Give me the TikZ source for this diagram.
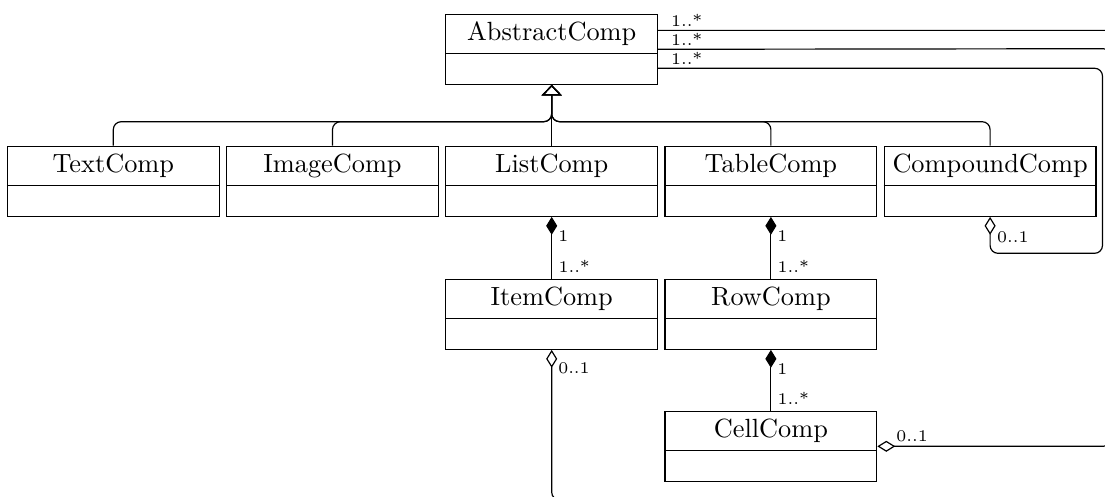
\documentclass[tikz,border=0pt]{standalone}
\usepackage{fontspec}
\usetikzlibrary{arrows.meta,calc}
\newcommand\umlclass[4]{%
  \node[classbox] (#1) at (#2,#3) {};
  \node[cname] (#1-t) at ([yshift=-7.6pt]#1.north) {#4};
  \draw[divider] ([yshift=-15.2pt]#1.north west) -- ([yshift=-15.2pt]#1.north east);
}
\begin{document}
\begin{tikzpicture}[x=0.38pt,y=-0.38pt,
  classbox/.style={draw, line width=0.45pt, minimum width=80.45pt, minimum height=26.6pt, inner sep=0pt, anchor=north},
  divider/.style={line width=0.45pt},
  cname/.style={font=\fontsize{10}{12}\selectfont, inner sep=0pt},
  mult/.style={font=\fontsize{6.2}{7}\selectfont, inner sep=0pt},
  conn/.style={line width=0.45pt, rounded corners=3pt},
  inherit/.style={conn, -{Triangle[open, length=4pt, width=7.6pt]}},
  compo/.style={conn, {Diamond[length=6.8pt, width=4.2pt]}-},
  aggr/.style={conn, {Diamond[open, length=6.8pt, width=4.2pt]}-},
]
\useasboundingbox (0,0) rectangle (1105,496);
\clip (0,0) rectangle (1105,496);

\umlclass{abs}{551.7}{13.7}{AbstractComp}
\umlclass{text}{113.3}{145.7}{TextComp}
\umlclass{image}{332.5}{145.7}{ImageComp}
\umlclass{list}{551.7}{145.7}{ListComp}
\umlclass{table}{770.9}{145.7}{TableComp}
\umlclass{compound}{990.1}{145.7}{CompoundComp}
\umlclass{item}{551.7}{278.7}{ItemComp}
\umlclass{row}{770.9}{278.7}{RowComp}
\umlclass{cell}{770.9}{410.7}{CellComp}

% inheritance
\coordinate (hub) at (551.7,121.7);
\foreach \c in {text,image,table,compound}
  \draw[inherit] (\c.north) |- (hub) -- (abs.south);
\draw[inherit] (list.north) -- (abs.south);

% compositions
\draw[compo] (list.south) -- (item.north);
\draw[compo] (table.south) -- (row.north);
\draw[compo] (row.south) -- (cell.north);
\node[mult, anchor=west] (m-list) at ([xshift=2.3pt, yshift=-7.3pt]list.south) {1};
\node[mult, anchor=west] (m-item) at ([xshift=2.4pt, yshift=4.6pt]item.north) {1..*};
\node[mult, anchor=west] (m-table) at ([xshift=2.3pt, yshift=-7.3pt]table.south) {1};
\node[mult, anchor=west] (m-row1) at ([xshift=2.4pt, yshift=4.6pt]row.north) {1..*};
\node[mult, anchor=west] (m-row2) at ([xshift=2.3pt, yshift=-7.3pt]row.south) {1};
\node[mult, anchor=west] (m-cell) at ([xshift=2.4pt, yshift=4.6pt]cell.north) {1..*};

% aggregations back to AbstractComp
\coordinate (c1) at (1119.5,500);
\coordinate (c2) at (1111,48.7);
\coordinate (c3) at (1102.5,253.3);
\draw[aggr] (item.south) |- (c1) |- ([yshift=7.2pt]abs.east);
\draw[aggr] (cell.east) -| (c2) -- (abs.east);
\draw[aggr] (compound.south) |- (c3) |- ([yshift=-7.2pt]abs.east);

\node[mult, anchor=south west] (a1) at ([xshift=4.7pt, yshift=8.3pt]abs.east) {1..*};
\node[mult, anchor=south west] (a2) at ([xshift=4.7pt, yshift=1.1pt]abs.east) {1..*};
\node[mult, anchor=south west] (a3) at ([xshift=4.7pt, yshift=-6.1pt]abs.east) {1..*};
\node[mult, anchor=west] (g1) at ([xshift=2.3pt, yshift=-6.8pt]item.south) {0..1};
\node[mult, anchor=west] (g2) at ([xshift=2.5pt, yshift=-7.6pt]compound.south) {0..1};
\node[mult, anchor=west] (g3) at ([xshift=7pt, yshift=3.7pt]cell.east) {0..1};
\end{tikzpicture}
\end{document}
